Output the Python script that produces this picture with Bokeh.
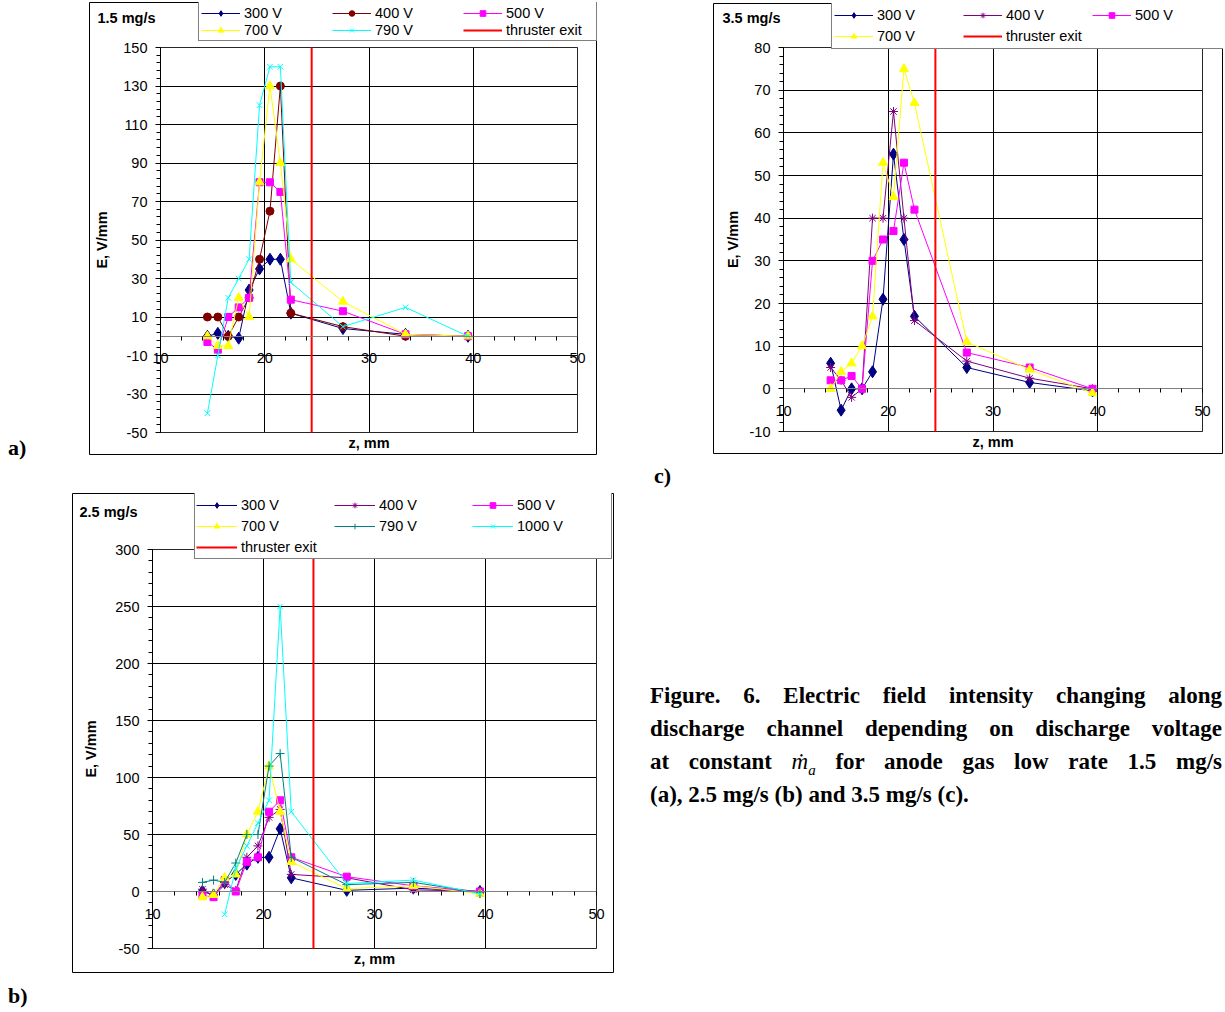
from bokeh.plotting import figure
from bokeh.models import (FixedTicker, Label, Div, Spacer, Range1d, BoxAnnotation, Grid)
from bokeh.layouts import row, column
from bokeh.embed import file_html
from bokeh.resources import INLINE

NAN = float("nan")

# ---------------- data ----------------
z_mm = [14.5, 15.5, 16.5, 17.5, 18.5, 19.5, 20.5, 21.5, 22.5, 27.5, 33.5, 39.5]
thruster_exit_z = 24.5

# (a) 1.5 mg/s
a_300 = [0, 1.5, 0, -1, 24, 35, 40, 40, 12, 4, 1, 0]
a_400 = [10, 10, 0, 10, 20, 40, 65, 130, 12, 5, 0, 0]
a_500 = [-3, -7, 10, 15, 20, 80, 80, 75, 19, 13, 1, 0]
a_700 = [0, -5, -5, 20, 10, 80, 130, 90, 40, 18, 1, 0]
a_790 = [-40, -10, 20, 30, 40, 120, 140, 140, 28, 5, 15, 0]

# (b) 2.5 mg/s
b_300 = [0, -3, 8, 15, 24, 30, 30, 55, 12, 1, 3, 0]
b_400 = [2, -4, 6, 1, 30, 40, 65, 72, 15, 12, 1.5, 0]
b_500 = [-3.5, -5, 10, 0, 26, 30, 70, 80, 30, 13, 5, 0]
b_700 = [-5, -3, 12, 15, 50, 70, 110, 70, 26, 2.5, 5, -2]
b_790 = [8, 10, 8, 25, 50, 50, 110, 121, 30, 6, 8, -1]
b_1000 = [NAN, NAN, -20, 20, 40, 60, 80, 250, 70, 7, 10, -2]

# (c) 3.5 mg/s
c_300 = [6, -5, 0, 0, 4, 21, 55, 35, 17, 5, 1.5, -0.5]
c_400 = [5, 2, -2, 0, 40, 40, 65, 40, 16, 6.5, 2.5, 0]
c_500 = [2, 2, 3, 0, 30, 35, 37, 53, 42, 8.5, 5, 0]
c_700 = [0, 4, 6, 10, 17, 53, 45, 75, 67, 11, 4.5, -1]

x_lo, x_hi = 10, 50
x_ticks = [10, 20, 30, 40, 50]
x_minor_ticks = [12, 14, 16, 18, 22, 24, 26, 28, 32, 34, 36, 38, 42, 44, 46, 48]

a_y_lo, a_y_hi = -50, 150
a_y_ticks = [-50, -30, -10, 10, 30, 50, 70, 90, 110, 130, 150]
a_y_minor = list(range(-50, 151, 4))
b_y_lo, b_y_hi = -50, 300
b_y_ticks = [-50, 0, 50, 100, 150, 200, 250, 300]
b_y_minor = list(range(-50, 301, 10))
c_y_lo, c_y_hi = -10, 80
c_y_ticks = [-10, 0, 10, 20, 30, 40, 50, 60, 70, 80]
c_y_minor = list(range(-10, 81, 2))

FONT = "Liberation Sans"
HAS_CROSS = "cross_bounds" in Grid.properties()


def make_panel(title, y_lo, y_hi, y_ticks, y_minor, series, box, frame,
               legend_box, pitch, glyph_w, label_h, leg_pad,
               ylabel_standoff, title_px, top_margin):
    bx, by, W, H = box                  # page pixels of the panel box
    fl, ft, fr, fb = frame              # page pixels of the plotting area
    sx = (fr - fl) / (x_hi - x_lo)
    sy = (fb - ft) / (y_hi - y_lo)
    X = lambda px: x_lo + (px - fl) / sx
    Y = lambda py: y_hi - (py - ft) / sy

    p = figure(width=W, height=H, output_backend="svg", toolbar_location=None,
               x_range=Range1d(X(bx), X(bx + W)), y_range=Range1d(Y(by + H), Y(by)),
               min_border=0, min_border_left=0, min_border_right=0,
               min_border_top=0, min_border_bottom=0,
               margin=(top_margin, 0, 0, 0))
    p.background_fill_color = "white"
    p.border_fill_color = "white"
    p.outline_line_color = "black"
    p.outline_line_width = 1

    xt = FixedTicker(ticks=x_ticks, minor_ticks=x_minor_ticks)
    yt = FixedTicker(ticks=y_ticks, minor_ticks=y_minor)

    # grid lines limited to the plotting area
    if HAS_CROSS:
        p.xgrid.ticker = xt
        p.ygrid.ticker = yt
        p.xgrid.bounds = (x_lo, x_hi)
        p.ygrid.bounds = (y_lo, y_hi)
        p.xgrid.cross_bounds = (y_lo, y_hi)
        p.ygrid.cross_bounds = (x_lo, x_hi)
        for g in (p.xgrid, p.ygrid):
            g.grid_line_color = "black"
            g.grid_line_width = 1
    else:
        p.xgrid.visible = False
        p.ygrid.visible = False
        p.segment(x0=x_ticks, x1=x_ticks, y0=[y_lo] * len(x_ticks), y1=[y_hi] * len(x_ticks),
                  line_color="black", line_width=1)
        p.segment(x0=[x_lo] * len(y_ticks), x1=[x_hi] * len(y_ticks), y0=y_ticks, y1=y_ticks,
                  line_color="black", line_width=1)

    p.add_layout(BoxAnnotation(left=x_lo, right=x_hi, bottom=y_lo, top=y_hi,
                               fill_alpha=0, line_color="#808080", line_width=1,
                               level="underlay"))

    xa = p.xaxis[0]
    xa.ticker = xt
    xa.fixed_location = 0
    xa.bounds = (x_lo, x_hi)
    xa.axis_line_color = "#808080"
    xa.major_tick_out = 4
    xa.major_tick_in = 0
    xa.minor_tick_out = 4
    xa.minor_tick_in = 0
    xa.major_tick_line_color = "black"
    xa.minor_tick_line_color = "black"
    xa.major_label_standoff = 13
    xa.major_label_text_font = FONT
    xa.major_label_text_font_size = "14.5px"
    xa.major_label_text_color = "black"

    ya = p.yaxis[0]
    ya.ticker = yt
    ya.fixed_location = x_lo
    ya.bounds = (y_lo, y_hi)
    ya.axis_line_color = "black"
    ya.major_tick_out = 5
    ya.major_tick_in = 0
    ya.minor_tick_out = 4
    ya.minor_tick_in = 0
    ya.major_tick_line_color = "black"
    ya.minor_tick_line_color = "black"
    ya.major_label_standoff = 8
    ya.major_label_text_font = FONT
    ya.major_label_text_font_size = "14.5px"
    ya.major_label_text_color = "black"
    ya.major_label_overrides = {t: str(t) for t in y_ticks if t < 0}
    ya.axis_label = "E, V/mm"
    ya.axis_label_text_font = FONT
    ya.axis_label_text_font_size = "14.5px"
    ya.axis_label_text_font_style = "bold"
    ya.axis_label_text_color = "black"
    ya.axis_label_standoff = ylabel_standoff

    for label, vals, color, marker, size in series:
        p.line(z_mm, vals, line_color=color, line_width=1, legend_label=label)
        if marker in ("x", "asterisk", "cross"):
            p.scatter(z_mm, vals, marker=marker, size=size, line_color=color,
                      line_width=1, fill_color=None, legend_label=label)
        else:
            p.scatter(z_mm, vals, marker=marker, size=size, line_color=color,
                      fill_color=color, legend_label=label)

    p.segment(x0=[thruster_exit_z], y0=[y_lo], x1=[thruster_exit_z], y1=[y_hi],
              line_color="#FF0000", line_width=2, legend_label="thruster exit")

    ll, lb = legend_box
    leg = p.legend[0]
    leg.location = (ll - bx, by + H - lb)
    leg.orientation = "horizontal"
    leg.ncols = 3
    leg.padding = leg_pad
    leg.margin = 0
    leg.spacing = 0
    leg.glyph_width = glyph_w
    leg.glyph_height = 14
    leg.label_standoff = 4
    leg.label_width = pitch - glyph_w - 4
    leg.label_height = label_h
    leg.label_text_font = FONT
    leg.label_text_font_size = "14.5px"
    leg.label_text_color = "black"
    leg.border_line_color = "black"
    leg.border_line_width = 1
    leg.background_fill_color = "white"
    leg.background_fill_alpha = 1

    tx, ty = title_px
    p.add_layout(Label(x=X(tx), y=Y(ty), text=title, text_font=FONT,
                       text_font_size="14.5px", text_font_style="bold",
                       text_color="black", text_baseline="middle", text_align="left"))
    p.add_layout(Label(x=(x_lo + x_hi) / 2, y=Y(fb + 10), text="z, mm", text_font=FONT,
                       text_font_size="14.5px", text_font_style="bold",
                       text_color="black", text_baseline="middle", text_align="center"))
    return p


NAVY, MAROON, PURPLE, MAGENTA, YELLOW, CYAN, TEAL = (
    "#000080", "#800000", "#800080", "#FF00FF", "#FFFF00", "#00FFFF", "#008080")

series_a = [("300 V", a_300, NAVY, "diamond", 12),
            ("400 V", a_400, MAROON, "circle", 8),
            ("500 V", a_500, MAGENTA, "square", 7),
            ("700 V", a_700, YELLOW, "triangle", 9),
            ("790 V", a_790, CYAN, "x", 8)]
series_b = [("300 V", b_300, NAVY, "diamond", 12),
            ("400 V", b_400, PURPLE, "asterisk", 9),
            ("500 V", b_500, MAGENTA, "square", 7),
            ("700 V", b_700, YELLOW, "triangle", 9),
            ("790 V", b_790, TEAL, "cross", 9),
            ("1000 V", b_1000, CYAN, "x", 8)]
series_c = [("300 V", c_300, NAVY, "diamond", 12),
            ("400 V", c_400, PURPLE, "asterisk", 9),
            ("500 V", c_500, MAGENTA, "square", 7),
            ("700 V", c_700, YELLOW, "triangle", 9)]

pa = make_panel("1.5 mg/s", a_y_lo, a_y_hi, a_y_ticks, a_y_minor, series_a,
                (89, 2, 508, 453), (160, 47, 577, 432),
                (198, 41), 131, 39, 17, 2, 10, (97, 17), 2)
pc = make_panel("3.5 mg/s", c_y_lo, c_y_hi, c_y_ticks, c_y_minor, series_c,
                (713, 3, 510, 451), (783, 47, 1202, 431),
                (831, 49), 129, 39, 21, 2, 6, (722, 17), 3)
pb = make_panel("2.5 mg/s", b_y_lo, b_y_hi, b_y_ticks, b_y_minor, series_b,
                (72, 493, 542, 480), (152, 549, 596, 948),
                (194, 559), 138, 41, 21, 1, 13, (79, 511), 0)

SERIF = "font-family:'Liberation Serif','Times New Roman',serif;font-weight:bold;color:#000;"

div_a = Div(text=f'<div style="{SERIF}font-size:22px;line-height:26px;padding-top:435px;padding-left:8px;">a)</div>',
            width=89, height=456, margin=0)
div_c = Div(text=f'<div style="{SERIF}font-size:22px;line-height:26px;padding-top:7px;padding-left:3px;">c)</div>',
            width=60, height=37, margin=0)
div_b = Div(text=f'<div style="{SERIF}font-size:22px;line-height:26px;padding-top:490px;padding-left:8px;">b)</div>',
            width=72, height=519, margin=0)

J = "text-align:justify;text-align-last:justify;white-space:nowrap;"
caption_html = (
    f'<div style="width:575px;height:519px;overflow:hidden;">'
    f'<div style="{SERIF}font-size:23px;line-height:33px;width:572px;padding-top:186px;">'
    f'<div style="{J}">Figure. 6. Electric field intensity changing along</div>'
    f'<div style="{J}">discharge channel depending on discharge voltage</div>'
    f'<div style="{J}">at constant <i style="font-weight:normal;">&#7745;<sub style="font-size:15px;line-height:0;">a</sub></i> for anode gas low rate 1.5 mg/s</div>'
    f'<div style="text-align:left;white-space:nowrap;">(a), 2.5 mg/s (b) and 3.5 mg/s (c).</div>'
    f'</div></div>'
)
caption = Div(text=caption_html, width=575, height=519, margin=0)

layout = column(
    row(div_a, pa, Spacer(width=116, height=456), pc),
    row(Spacer(width=651, height=37), div_c),
    row(div_b, pb, Spacer(width=36, height=519), caption),
)

open("out.html", "w").write(file_html(layout, INLINE))
